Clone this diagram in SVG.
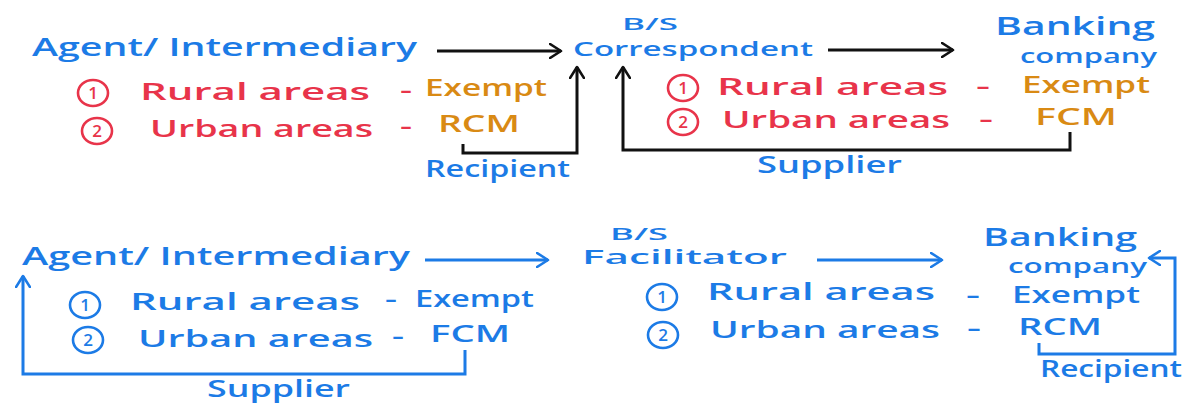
<svg xmlns="http://www.w3.org/2000/svg" width="1183" height="408" viewBox="0 0 1183 408">
  <style>
    text { font-family: "Open Sans", "Liberation Sans", sans-serif; font-weight: 600; }
    .blue { fill: #1c7be6; }
    .red { fill: #e8344a; }
    .orange { fill: #d98a14; }
    .big { font-size: 25px; }
    .mid { font-size: 23px; }
    .title { font-size: 20px; }
    .sub { font-size: 19px; }
    .small { font-size: 16px; }
    .num { font-size: 17px; text-anchor: middle; }
    .ring-red { fill: none; stroke: #e8344a; stroke-width: 2.6; }
    .ring-blue { fill: none; stroke: #1c7be6; stroke-width: 2.6; }
    .wire-black { fill: none; stroke: #111; stroke-width: 3; }
    .wire-blue { fill: none; stroke: #1c7be6; stroke-width: 3; }
  </style>
  <defs>
    <marker id="head-black" viewBox="0 0 14 16" refX="12" refY="8" markerWidth="14" markerHeight="16" markerUnits="userSpaceOnUse" orient="auto">
      <path d="M1,1 L12,8 L1,15" fill="none" stroke="#111" stroke-width="2.6" stroke-linecap="round" stroke-linejoin="round"/>
    </marker>
    <marker id="head-blue" viewBox="0 0 14 16" refX="12" refY="8" markerWidth="14" markerHeight="16" markerUnits="userSpaceOnUse" orient="auto">
      <path d="M1,1 L12,8 L1,15" fill="none" stroke="#1c7be6" stroke-width="2.6" stroke-linecap="round" stroke-linejoin="round"/>
    </marker>
  </defs>
  <rect width="1183" height="408" fill="#ffffff"/>

  <!-- upper flow: agent -> business correspondent -> banking company -->
  <g id="agent-correspondent-case">
    <text class="blue big" x="32" y="56" textLength="385" lengthAdjust="spacingAndGlyphs">Agent/ Intermediary</text>
    <ellipse class="ring-red" cx="93" cy="93" rx="15" ry="13"/>
    <text class="red num" x="93" y="99">1</text>
    <text class="red mid" x="140" y="100" textLength="230" lengthAdjust="spacingAndGlyphs">Rural areas</text>
    <text class="red mid" x="400" y="98" textLength="12" lengthAdjust="spacingAndGlyphs">-</text>
    <text class="orange mid" x="425" y="96" textLength="122" lengthAdjust="spacingAndGlyphs">Exempt</text>
    <ellipse class="ring-red" cx="97" cy="131" rx="15" ry="13"/>
    <text class="red num" x="97" y="137">2</text>
    <text class="red mid" x="150" y="137" textLength="223" lengthAdjust="spacingAndGlyphs">Urban areas</text>
    <text class="red mid" x="400" y="134" textLength="12" lengthAdjust="spacingAndGlyphs">-</text>
    <text class="orange mid" x="438" y="132" textLength="82" lengthAdjust="spacingAndGlyphs">RCM</text>
  </g>

  <g id="bs-correspondent">
    <text class="blue small" x="622" y="30" textLength="56" lengthAdjust="spacingAndGlyphs">B/S</text>
    <text class="blue title" x="573" y="56" textLength="240" lengthAdjust="spacingAndGlyphs">Correspondent</text>
  </g>

  <g id="banking-company-top">
    <text class="blue big" x="995" y="35" textLength="160" lengthAdjust="spacingAndGlyphs">Banking</text>
    <text class="blue sub" x="1020" y="63" textLength="137" lengthAdjust="spacingAndGlyphs">company</text>
    <ellipse class="ring-red" cx="683" cy="88" rx="15" ry="13"/>
    <text class="red num" x="683" y="94">1</text>
    <text class="red mid" x="717" y="95" textLength="231" lengthAdjust="spacingAndGlyphs">Rural areas</text>
    <text class="red mid" x="976" y="94" textLength="14" lengthAdjust="spacingAndGlyphs">-</text>
    <text class="orange mid" x="1022" y="93" textLength="128" lengthAdjust="spacingAndGlyphs">Exempt</text>
    <ellipse class="ring-red" cx="683" cy="122" rx="15" ry="13"/>
    <text class="red num" x="683" y="128">2</text>
    <text class="red mid" x="722" y="128" textLength="228" lengthAdjust="spacingAndGlyphs">Urban areas</text>
    <text class="red mid" x="979" y="127" textLength="14" lengthAdjust="spacingAndGlyphs">-</text>
    <text class="orange mid" x="1035" y="125" textLength="82" lengthAdjust="spacingAndGlyphs">FCM</text>
  </g>

  <!-- lower flow: agent -> business facilitator -> banking company -->
  <g id="agent-facilitator-case">
    <text class="blue big" x="22" y="265" textLength="388" lengthAdjust="spacingAndGlyphs">Agent/ Intermediary</text>
    <ellipse class="ring-blue" cx="85" cy="305" rx="15" ry="13"/>
    <text class="blue num" x="85" y="311">1</text>
    <text class="blue mid" x="130" y="310" textLength="230" lengthAdjust="spacingAndGlyphs">Rural areas</text>
    <text class="blue mid" x="385" y="307" textLength="12" lengthAdjust="spacingAndGlyphs">-</text>
    <text class="blue mid" x="415" y="307" textLength="119" lengthAdjust="spacingAndGlyphs">Exempt</text>
    <ellipse class="ring-blue" cx="88" cy="340" rx="15" ry="13"/>
    <text class="blue num" x="88" y="346">2</text>
    <text class="blue mid" x="138" y="347" textLength="235" lengthAdjust="spacingAndGlyphs">Urban areas</text>
    <text class="blue mid" x="392" y="344" textLength="12" lengthAdjust="spacingAndGlyphs">-</text>
    <text class="blue mid" x="430" y="342" textLength="80" lengthAdjust="spacingAndGlyphs">FCM</text>
  </g>

  <g id="bs-facilitator">
    <text class="blue small" x="610" y="240" textLength="58" lengthAdjust="spacingAndGlyphs">B/S</text>
    <text class="blue title" x="582" y="264" textLength="205" lengthAdjust="spacingAndGlyphs">Facilitator</text>
    <ellipse class="ring-blue" cx="662" cy="297" rx="15" ry="13"/>
    <text class="blue num" x="662" y="303">1</text>
    <text class="blue mid" x="707" y="300" textLength="228" lengthAdjust="spacingAndGlyphs">Rural areas</text>
    <text class="blue mid" x="966" y="303" textLength="14" lengthAdjust="spacingAndGlyphs">-</text>
    <text class="blue mid" x="1012" y="303" textLength="128" lengthAdjust="spacingAndGlyphs">Exempt</text>
    <ellipse class="ring-blue" cx="663" cy="335" rx="15" ry="13"/>
    <text class="blue num" x="663" y="341">2</text>
    <text class="blue mid" x="710" y="338" textLength="230" lengthAdjust="spacingAndGlyphs">Urban areas</text>
    <text class="blue mid" x="967" y="336" textLength="14" lengthAdjust="spacingAndGlyphs">-</text>
    <text class="blue mid" x="1018" y="335" textLength="84" lengthAdjust="spacingAndGlyphs">RCM</text>
  </g>

  <g id="banking-company-bottom">
    <text class="blue big" x="983" y="246" textLength="154" lengthAdjust="spacingAndGlyphs">Banking</text>
    <text class="blue sub" x="1008" y="273" textLength="139" lengthAdjust="spacingAndGlyphs">company</text>
  </g>

  <!-- connectors and their role labels -->
  <g id="connectors">
    <path class="wire-black" d="M437,51 H561" marker-end="url(#head-black)"/>
    <path class="wire-black" d="M828,50 H953" marker-end="url(#head-black)"/>
    <path class="wire-black" d="M463,144 V153 H577 V67" marker-end="url(#head-black)"/>
    <path class="wire-black" d="M1070,132 V150 H623 V67" marker-end="url(#head-black)"/>
    <text class="blue mid" x="425" y="177" textLength="145" lengthAdjust="spacingAndGlyphs">Recipient</text>
    <text class="blue mid" x="757" y="173" textLength="145" lengthAdjust="spacingAndGlyphs">Supplier</text>

    <path class="wire-blue" d="M425,260 H548" marker-end="url(#head-blue)"/>
    <path class="wire-blue" d="M817,260 H942" marker-end="url(#head-blue)"/>
    <path class="wire-blue" d="M465,350 V374 H23 V276" marker-end="url(#head-blue)"/>
    <path class="wire-blue" d="M1039,343 V354 H1175 V258 H1149" marker-end="url(#head-blue)"/>
    <text class="blue mid" x="207" y="397" textLength="143" lengthAdjust="spacingAndGlyphs">Supplier</text>
    <text class="blue mid" x="1040" y="377" textLength="142" lengthAdjust="spacingAndGlyphs">Recipient</text>
  </g>
</svg>
